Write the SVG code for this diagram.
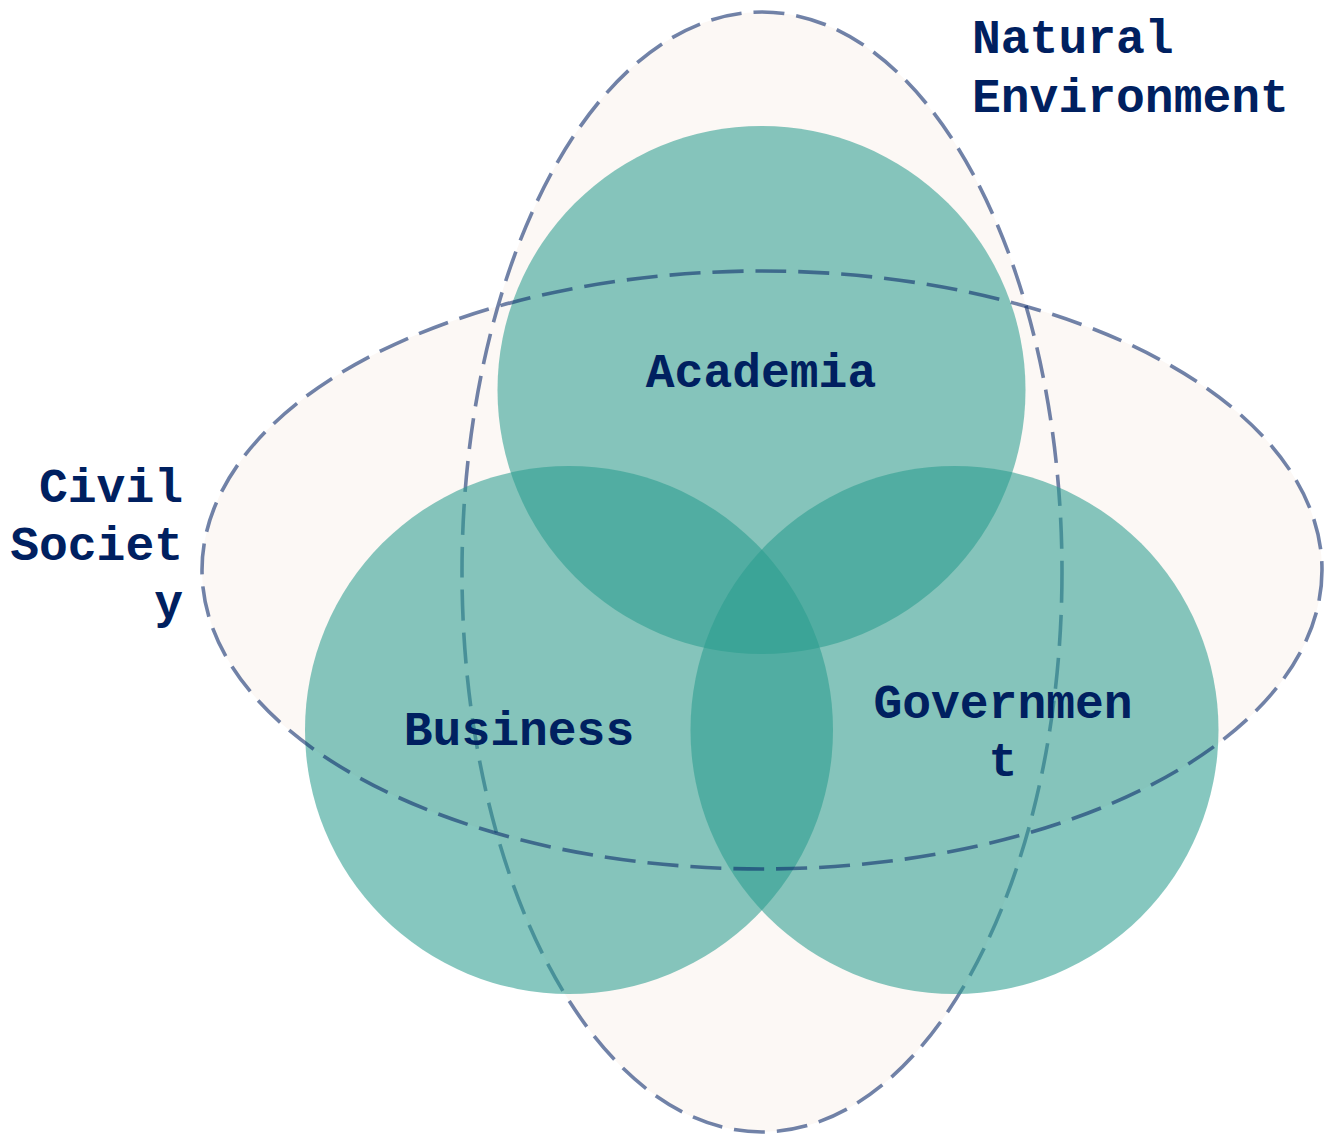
<svg xmlns="http://www.w3.org/2000/svg" width="1332" height="1139" viewBox="0 0 1332 1139">
  <style>
    .env { fill: #fcf8f5; stroke: none; }
    .dash { fill: none; stroke: #0b2a6b; stroke-opacity: 0.58; stroke-width: 3.6; stroke-dasharray: 31 12; }
    .sector { fill: #2a9d8f; fill-opacity: 0.57; stroke: none; }
    .label { font-family: "Liberation Mono", "Courier New", monospace; font-weight: bold; font-size: 48px; fill: #002060; }
  </style>
  <rect width="1332" height="1139" fill="#ffffff"/>
  <g id="environment-fills">
    <ellipse class="env" cx="762" cy="570" rx="560" ry="299"/>
    <ellipse class="env" cx="762" cy="572" rx="300" ry="560"/>
  </g>
  <g id="natural-environment">
    <ellipse class="dash" cx="762" cy="572" rx="300" ry="560"/>
    <text class="label" x="972" y="53">Natural</text>
    <text class="label" x="972" y="112">Environment</text>
  </g>
  <g id="academia">
    <circle class="sector" cx="761.5" cy="390" r="264"/>
  </g>
  <g id="business">
    <circle class="sector" cx="569" cy="730" r="264"/>
  </g>
  <g id="government">
    <circle class="sector" cx="954.5" cy="730" r="264"/>
  </g>
  <g id="civil-society">
    <ellipse class="dash" cx="762" cy="570" rx="560" ry="299"/>
    <text class="label" x="183" y="502" text-anchor="end">Civil</text>
    <text class="label" x="183" y="560" text-anchor="end">Societ</text>
    <text class="label" x="183" y="618" text-anchor="end">y</text>
  </g>
  <g id="labels">
    <text class="label" x="761" y="387" text-anchor="middle">Academia</text>
    <text class="label" x="519" y="745" text-anchor="middle">Business</text>
    <text class="label" x="1003" y="718" text-anchor="middle">Governmen</text>
    <text class="label" x="1003" y="776" text-anchor="middle">t</text>
  </g>
  <g id="connectors"></g>
</svg>
